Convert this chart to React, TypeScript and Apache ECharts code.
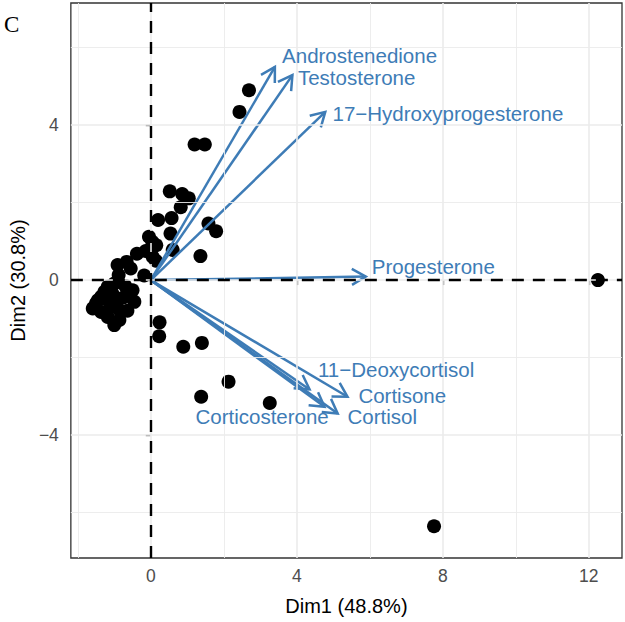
import React, { useEffect, useRef } from "react";
import * as echarts from "echarts";

// Individuals (Dim1, Dim2)
const pointsX = [12.25, 7.76, 2.69, 2.43, 1.2, 1.48, 0.52, 0.86, 1.04, 0.82, 0.2, 0.57, 0.54, 1.58, 1.79, 1.36, 0.6, -0.05, 0.15, 0.05, 0.14, -0.18, -0.14, 0.04, -0.38, -0.66, -0.91, -0.88, -1.0, -1.18, -0.5, -0.45, -1.36, -1.45, -1.59, -1.5, -1.36, -1.18, -1.0, -0.86, -0.64, -1.09, -1.18, -0.95, -0.86, -1.27, -1.05, -0.75, -0.7, -0.55, 0.24, 0.23, 0.89, 1.4, 2.13, 1.38, 3.26];
const pointsY = [0.0, -6.35, 4.9, 4.34, 3.5, 3.5, 2.29, 2.22, 2.11, 1.88, 1.55, 1.6, 1.2, 1.46, 1.26, 0.62, 0.78, 1.12, 0.9, 0.6, 0.5, 0.12, 0.75, 0.99, 0.68, 0.47, 0.39, 0.13, -0.09, -0.17, -0.26, -0.56, -0.43, -0.52, -0.73, -0.6, -0.82, -0.95, -1.16, -1.03, -0.79, -0.69, -0.52, -0.52, -0.77, -0.3, -0.35, -0.45, -0.15, 0.3, -1.09, -1.45, -1.72, -1.62, -2.62, -3.01, -3.17];

// Variables (arrow tips) and label positions
const varNames = ["Androstenedione", "Testosterone", "17\u2212Hydroxyprogesterone", "Progesterone", "11\u2212Deoxycortisol", "Cortisone", "Cortisol", "Corticosterone"];
const loadX = [3.4, 3.88, 4.78, 5.89, 4.35, 5.39, 5.12, 4.76];
const loadY = [5.5, 5.29, 4.34, 0.09, -2.82, -3.01, -3.44, -3.27];
const labelX = [5.72, 5.64, 8.14, 7.74, 6.72, 6.89, 6.34, 3.05];
const labelY = [5.79, 5.22, 4.31, 0.36, -2.3, -2.97, -3.52, -3.51];

const xTicks = [0, 4, 8, 12];
const yTicks = [-4, 0, 4];
const xMinor = [-2, 2, 6, 10];
const yMinor = [-6, -2, 2, 6];

const BLUE = "#3E7CB6";
const FONT = '"Liberation Sans", Arial, Helvetica, sans-serif';

const fmt = (v: number) => (v < 0 ? "\u2212" + Math.abs(v) : String(v));

export default function App() {
  const ref = useRef<HTMLDivElement>(null);
  useEffect(() => {
    if (!ref.current) return;
    const chart = echarts.init(ref.current, undefined, { renderer: "svg" });
    const gridLine = (vals: number[], key: "xAxis" | "yAxis", w: number) =>
      vals.map((v) => ({ [key]: v, lineStyle: { color: "#EBEBEB", width: w, type: "solid" } }));
    chart.setOption({
      animation: false,
      backgroundColor: "#fff",
      grid: {
        left: 66,
        right: 3,
        top: 3,
        bottom: 64,
        show: true,
        borderColor: "#333333",
        borderWidth: 1.3,
        backgroundColor: "#fff",
      },
      graphic: [
        {
          type: "text",
          left: 4,
          top: 13,
          style: { text: "C", font: '23px "Liberation Serif", "Times New Roman", serif', fill: "#000" },
        },
      ],
      xAxis: {
        type: "value",
        min: -2.19,
        max: 12.91,
        name: "Dim1 (48.8%)",
        nameLocation: "middle",
        nameGap: 38,
        nameTextStyle: { fontSize: 20, color: "#000", fontFamily: FONT },
        axisLine: { show: false },
        axisTick: { show: true, length: 5, customValues: xTicks, lineStyle: { color: "#333333", width: 1.3 } },
        axisLabel: { customValues: xTicks, formatter: fmt, fontSize: 17.5, color: "#4D4D4D", fontFamily: FONT, margin: 9 },
        splitLine: { show: false },
      },
      yAxis: {
        type: "value",
        min: -7.17,
        max: 7.15,
        name: "Dim2 (30.8%)",
        nameLocation: "middle",
        nameGap: 34,
        nameTextStyle: { fontSize: 20, color: "#000", fontFamily: FONT },
        axisLine: { show: false },
        axisTick: { show: true, length: 5, customValues: yTicks, lineStyle: { color: "#333333", width: 1.3 } },
        axisLabel: { customValues: yTicks, formatter: fmt, fontSize: 17.5, color: "#4D4D4D", fontFamily: FONT, margin: 12 },
        splitLine: { show: false },
      },
      series: [
        {
          type: "line",
          data: [],
          z: 1,
          markLine: {
            silent: true,
            symbol: ["none", "none"],
            label: { show: false },
            data: [
              ...gridLine(xMinor, "xAxis", 0.9),
              ...gridLine(yMinor, "yAxis", 0.9),
              ...gridLine(xTicks, "xAxis", 1.6),
              ...gridLine(yTicks, "yAxis", 1.6),
            ],
          },
        },
        {
          type: "line",
          data: [],
          z: 2,
          markLine: {
            silent: true,
            symbol: ["none", "none"],
            label: { show: false },
            data: [
              { xAxis: 0, lineStyle: { color: "#000", width: 2.4, type: [12, 9] } },
              { yAxis: 0, lineStyle: { color: "#000", width: 2.4, type: [12, 9] } },
            ],
          },
        },
        {
          type: "scatter",
          z: 3,
          symbol: "circle",
          symbolSize: 14,
          itemStyle: { color: "#000", opacity: 1 },
          data: pointsX.map((x, i) => [x, pointsY[i]]),
        },
        {
          type: "custom",
          z: 4,
          data: loadX.map((x, i) => [x, loadY[i]]),
          renderItem: (params: any, api: any) => {
            const o = api.coord([0, 0]);
            const t = api.coord([api.value(0), api.value(1)]);
            const ang = Math.atan2(t[1] - o[1], t[0] - o[0]);
            const L = 16;
            const a = Math.PI / 6;
            const p1 = [t[0] - L * Math.cos(ang - a), t[1] - L * Math.sin(ang - a)];
            const p2 = [t[0] - L * Math.cos(ang + a), t[1] - L * Math.sin(ang + a)];
            return {
              type: "group",
              children: [
                { type: "line", shape: { x1: o[0], y1: o[1], x2: t[0], y2: t[1] }, style: { stroke: BLUE, lineWidth: 2.5 } },
                { type: "polyline", shape: { points: [p1, t, p2] }, style: { stroke: BLUE, lineWidth: 2.5, fill: "none" } },
              ],
            };
          },
        },
        {
          type: "custom",
          z: 5,
          data: labelX.map((x, i) => [x, labelY[i]]),
          renderItem: (params: any, api: any) => {
            const p = api.coord([api.value(0), api.value(1)]);
            return {
              type: "text",
              x: p[0],
              y: p[1],
              style: {
                text: varNames[params.dataIndex],
                fill: BLUE,
                font: '20.5px "Liberation Sans", Arial, Helvetica, sans-serif',
                align: "center",
                verticalAlign: "middle",
              },
            };
          },
        },
      ],
    });
    return () => chart.dispose();
  }, []);
  return <div ref={ref} style={{ width: 625, height: 622, position: "absolute", left: 0, top: 0 }} />;
}
